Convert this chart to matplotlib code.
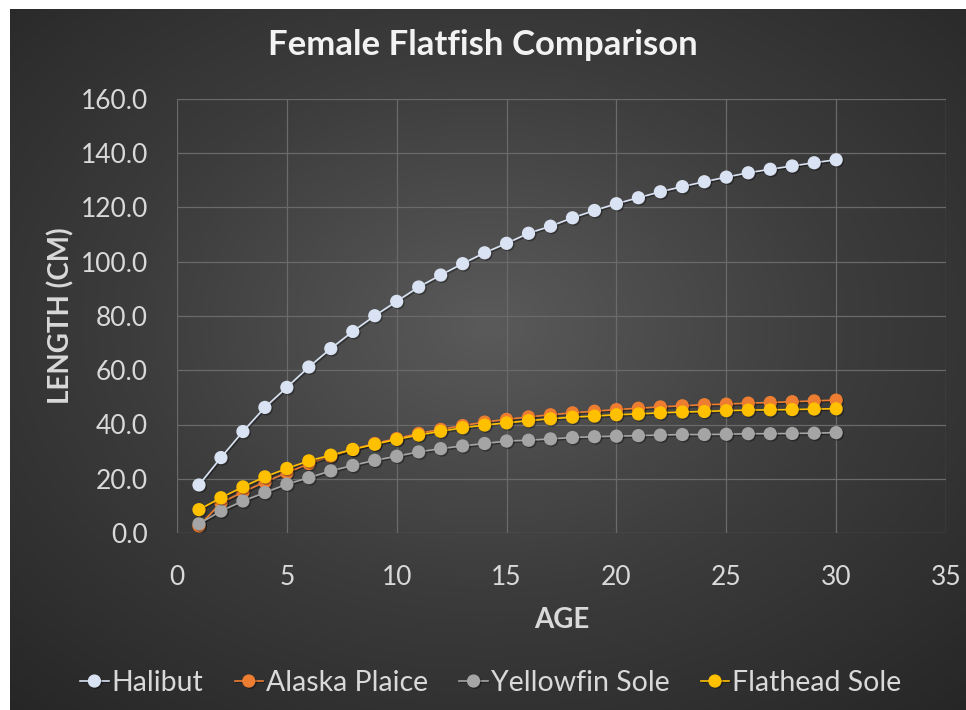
import numpy as np
import matplotlib.pyplot as plt
from matplotlib.colors import LinearSegmentedColormap
import matplotlib.patheffects as pe

# --- data ---
ages = list(range(1, 31))
halibut = [17.7, 27.8, 37.4, 46.3, 53.7, 61.2, 68.0, 74.3, 80.1, 85.4,
           90.7, 95.1, 99.3, 103.3, 106.8, 110.5, 113.1, 116.2, 118.9, 121.4,
           123.6, 125.8, 127.7, 129.5, 131.2, 132.8, 134.1, 135.3, 136.5, 137.6]
alaska_plaice = [2.6, 11.1, 15.1, 18.8, 22.2, 25.6, 28.3, 30.8, 33.0, 34.8,
                 36.7, 38.2, 39.6, 40.9, 41.9, 42.8, 43.6, 44.3, 44.9, 45.5,
                 46.0, 46.5, 46.9, 47.3, 47.5, 47.9, 48.1, 48.4, 48.7, 49.0]
yellowfin_sole = [3.4, 8.1, 11.8, 14.9, 18.0, 20.4, 22.9, 24.9, 26.8, 28.3,
                  29.9, 31.1, 32.1, 33.0, 33.9, 34.2, 34.7, 35.2, 35.5, 35.7,
                  35.9, 36.1, 36.3, 36.3, 36.4, 36.6, 36.6, 36.7, 36.8, 37.0]
flathead_sole = [8.6, 13.0, 17.0, 20.7, 23.8, 26.6, 28.7, 30.8, 32.7, 34.5,
                 36.1, 37.5, 38.8, 39.8, 40.6, 41.4, 42.1, 42.7, 43.1, 43.6,
                 43.9, 44.3, 44.6, 44.8, 45.1, 45.3, 45.4, 45.5, 45.7, 45.8]

series = [
    ("Halibut", halibut, "#DAE3F3"),
    ("Alaska Plaice", alaska_plaice, "#ED7D31"),
    ("Yellowfin Sole", yellowfin_sole, "#A5A5A5"),
    ("Flathead Sole", flathead_sole, "#FFC000"),
]

plt.rcParams['font.family'] = ['Lato', 'DejaVu Sans']
txt = "#D9D9D9"

fig = plt.figure(figsize=(9.66, 7.10), dpi=100, facecolor="white")

# dark radial gradient background (leaves thin white border top/left)
bg = fig.add_axes([10 / 966, 0, 956 / 966, 1 - 9 / 710])
bg.set_axis_off()
yy, xx = np.mgrid[0:1:400j, 0:1:500j]
r = np.sqrt(((xx - 0.5) / 0.75) ** 2 + ((yy - 0.45) / 0.75) ** 2)
cmap = LinearSegmentedColormap.from_list("bg", ["#5a5a5a", "#3c3c3c", "#262626"])
bg.imshow(np.clip(r, 0, 1), cmap=cmap, aspect="auto", extent=[0, 1, 0, 1],
          vmin=0, vmax=1)

ax = fig.add_axes([177 / 966, 1 - 533 / 710, 769 / 966, 434 / 710])
ax.patch.set_alpha(0)

for name, vals, col in series:
    ax.plot(ages, vals, color=col, lw=1.2, marker="o", markersize=8.5,
            markeredgecolor=col, label=name, zorder=3,
            path_effects=[pe.SimpleLineShadow(offset=(1, -1), alpha=0.35),
                          pe.Normal()])

ax.set_xlim(0, 35)
ax.set_ylim(0, 160)
ax.set_xticks(range(0, 36, 5))
ax.set_yticks(range(0, 161, 20))
ax.set_yticklabels([f"{v:.1f}" for v in range(0, 161, 20)])
ax.grid(True, color="#6a6a6a", lw=0.9, zorder=0)
for s in ax.spines.values():
    s.set_visible(False)
ax.tick_params(length=0, colors=txt, labelsize=19)
ax.tick_params(axis="x", pad=23)
ax.tick_params(axis="y", pad=21)

ax.set_xlabel("AGE", color=txt, fontsize=20, fontweight="bold", labelpad=12)
ax.set_ylabel("LENGTH (CM)", color=txt, fontsize=20, fontweight="bold", labelpad=4)

fig.text(0.5, 1 - 45 / 710, "Female Flatfish Comparison", ha="center", va="center",
         color="#F2F2F2", fontsize=25, fontweight="bold")

leg = fig.legend(loc="center", bbox_to_anchor=(0.508, 1 - 683 / 710), ncol=4,
                 frameon=False, fontsize=20.5, handlelength=1.0, handletextpad=0.1,
                 columnspacing=1.1, labelcolor=txt)

fig.savefig("out.png", dpi=100, facecolor=fig.get_facecolor())
